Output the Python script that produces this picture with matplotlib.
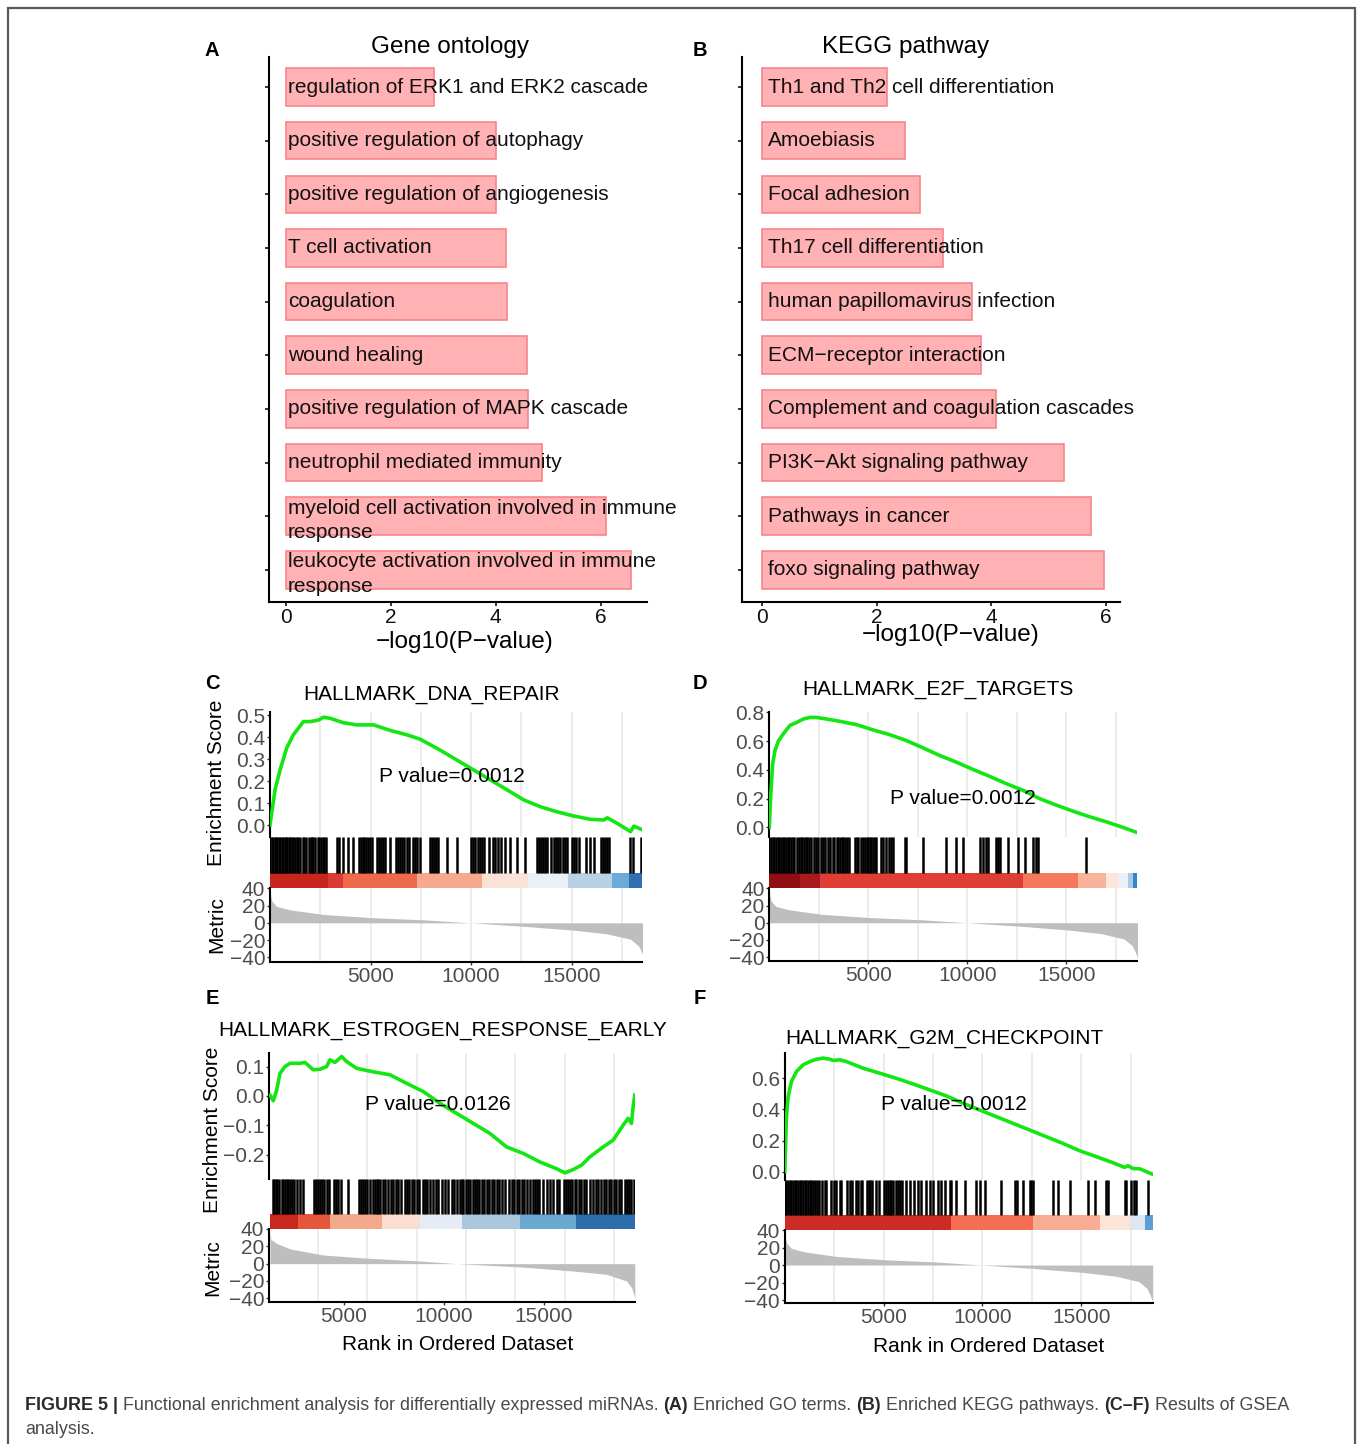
"""
Figure 5 rebuild: GO / KEGG enrichment bars (A, B) and four GSEA plots (C-F).
"""

import matplotlib
matplotlib.use("Agg")
import matplotlib.pyplot as plt
from matplotlib.patches import Rectangle

plt.rcParams['font.family'] = ['Liberation Sans', 'DejaVu Sans']

# ---------------------------------------------------------------- data
GO_TERMS = [
    "regulation of ERK1 and ERK2 cascade",
    "positive regulation of autophagy",
    "positive regulation of angiogenesis",
    "T cell activation",
    "coagulation",
    "wound healing",
    "positive regulation of MAPK cascade",
    "neutrophil mediated immunity",
    "myeloid cell activation involved in immune\nresponse",
    "leukocyte activation involved in immune\nresponse",
]
GO_LOGP = [2.83, 4.00, 4.01, 4.20, 4.21, 4.59, 4.61, 4.89, 6.10, 6.57]

KEGG_TERMS = [
    "Th1 and Th2 cell differentiation",
    "Amoebiasis",
    "Focal adhesion",
    "Th17 cell differentiation",
    "human papillomavirus infection",
    "ECM\u2212receptor interaction",
    "Complement and coagulation cascades",
    "PI3K\u2212Akt signaling pathway",
    "Pathways in cancer",
    "foxo signaling pathway",
]
KEGG_LOGP = [2.19, 2.50, 2.75, 3.16, 3.66, 3.82, 4.08, 5.27, 5.74, 5.96]

# running enrichment score curves (rank, ES)
C_ES_RANK = [0, 250, 500, 830, 1160, 1660, 1990, 2410, 2660, 2990, 3650, 4320,
             5150, 5980, 6810, 7470, 8470, 9300, 10130, 10960, 11790, 12620,
             13450, 14280, 15110, 15940, 16600, 16770, 17260, 17930, 18100, 18480]
C_ES = [0.0, 0.16, 0.25, 0.35, 0.41, 0.47, 0.47, 0.477, 0.49, 0.485, 0.465, 0.455,
        0.455, 0.43, 0.41, 0.39, 0.34, 0.295, 0.25, 0.205, 0.16, 0.114,
        0.083, 0.06, 0.041, 0.026, 0.023, 0.033, 0.008, -0.03, -0.005, -0.02]

D_ES_RANK = [0, 67, 168, 286, 454, 706, 1042, 1378, 1715, 2050, 2387, 2723, 3564,
             4404, 5245, 6085, 6926, 7766, 8607, 9447, 10288, 11128, 11969, 12809,
             13650, 14490, 15331, 16171, 17012, 17852, 18558]
D_ES = [0.0, 0.21, 0.44, 0.535, 0.60, 0.65, 0.71, 0.73, 0.754, 0.765, 0.765, 0.758,
        0.738, 0.715, 0.678, 0.645, 0.604, 0.553, 0.50, 0.454, 0.403, 0.355, 0.304,
        0.258, 0.20, 0.155, 0.113, 0.074, 0.039, 0.0, -0.035]

E_ES_RANK = [1300, 1467, 1633, 1800, 2050, 2300, 2800, 3050, 3467, 3800, 4133, 4300,
             4550, 4883, 5133, 5633, 5967, 6633, 7300, 8133, 8967, 9800, 10633,
             11467, 12300, 13133, 13967, 14800, 15633, 16050, 16467, 16883, 17300,
             17967, 18467, 18967, 19217, 19383, 19467, 19550]
E_ES = [0.003, -0.016, 0.02, 0.077, 0.10, 0.111, 0.111, 0.114, 0.089, 0.091, 0.10,
        0.123, 0.114, 0.134, 0.117, 0.094, 0.089, 0.08, 0.072, 0.043, 0.015, -0.025,
        -0.059, -0.093, -0.127, -0.173, -0.195, -0.224, -0.247, -0.261, -0.25,
        -0.235, -0.207, -0.173, -0.15, -0.099, -0.076, -0.093, -0.036, 0.003]

F_ES_RANK = [0, 84, 169, 337, 590, 927, 1265, 1602, 1939, 2276, 2445, 2782, 3119,
             3962, 4805, 5648, 6491, 7334, 8177, 9020, 9863, 10706, 11549, 12392,
             13235, 14078, 14921, 15764, 16607, 17197, 17366, 17619, 17956, 18597]
F_ES = [0.0, 0.354, 0.483, 0.58, 0.644, 0.687, 0.708, 0.723, 0.73, 0.723, 0.715,
        0.719, 0.708, 0.665, 0.633, 0.60, 0.564, 0.526, 0.487, 0.44, 0.397, 0.354,
        0.311, 0.268, 0.225, 0.182, 0.135, 0.097, 0.058, 0.028, 0.039, 0.021,
        0.019, -0.015]

# gene-set hit positions (rank)
C_HITS = [0, 83, 166, 249, 299, 365, 432, 498, 581, 664, 730, 797, 863, 930, 996,
          1079, 1162, 1262, 1328, 1411, 1494, 1627, 1710, 1793, 1959, 2025, 2092,
          2158, 2258, 2374, 2457, 2523, 2623, 2706, 2789, 3320, 3420, 3619, 3901,
          4117, 4432, 4515, 4615, 4681, 4781, 4864, 4980, 5063, 5345, 5445, 5528,
          5644, 5727, 5976, 6275, 6358, 6474, 6574, 6673, 6806, 6889, 7105, 7204,
          7304, 7437, 7935, 8034, 8134, 8267, 8366, 8798, 9296, 10012, 10111,
          10209, 10325, 10425, 10541, 10657, 10873, 11089, 11205, 11321, 11487,
          11703, 11952, 12284, 12699, 13280, 13363, 13479, 13579, 13695, 13778,
          13977, 14110, 14226, 14326, 14409, 14575, 14691, 14774, 15023, 15106,
          15239, 15355, 15737, 15903, 16102, 16467, 16567, 16666, 16766, 16866,
          17928, 18061, 18459]

D_HITS = [0, 84, 168, 252, 336, 420, 504, 588, 672, 756, 841, 925, 1009, 1093,
          1177, 1261, 1412, 1496, 1580, 1664, 1748, 1832, 1916, 2000, 2084, 2253,
          2353, 2471, 2589, 2690, 2790, 2975, 3059, 3194, 3278, 3396, 3480, 3564,
          3648, 3732, 3816, 3900, 4034, 4320, 4404, 4488, 4623, 4740, 4824, 4909,
          4993, 5077, 5161, 5245, 5329, 5413, 5665, 5749, 5917, 6052, 6169, 6253,
          6842, 6926, 7766, 8943, 9447, 9783, 10624, 10792, 10960, 11044, 11464,
          11548, 11632, 12053, 12557, 12893, 13314, 13482, 13566, 15970]

E_HITS = [1433, 1500, 1600, 1667, 1767, 1883, 1967, 2050, 2133, 2217, 2300, 2383,
          2500, 2633, 2800, 2933, 3500, 3600, 3717, 3800, 3883, 4000, 4133, 4267,
          4500, 4600, 4717, 4833, 5217, 5767, 5833, 5933, 6050, 6133, 6300, 6433,
          6550, 6633, 6717, 6800, 6933, 7050, 7217, 7333, 7467, 7600, 7717, 7833,
          8050, 8167, 8267, 8383, 8500, 8633, 8767, 8933, 9050, 9167, 9300, 9467,
          9600, 9717, 9883, 10050, 10217, 10383, 10500, 10633, 10800, 10883, 10967,
          11100, 11217, 11300, 11433, 11550, 11667, 11767, 11883, 12000, 12133,
          12267, 12383, 12500, 12633, 12767, 12883, 13050, 13267, 13383, 13500,
          13633, 13767, 13883, 14000, 14133, 14300, 14433, 14550, 14667, 14767,
          14933, 15167, 15300, 15433, 15633, 15767, 16000, 16100, 16217, 16300,
          16433, 16550, 16633, 16767, 16883, 17000, 17133, 17300, 17467, 17600,
          17717, 17883, 18000, 18133, 18267, 18383, 18500, 18633, 18767, 18883,
          19050, 19167, 19267, 19383, 19517]

F_HITS = [0, 84, 169, 253, 337, 422, 506, 590, 674, 759, 843, 927, 1012, 1096,
          1180, 1265, 1349, 1433, 1517, 1635, 1737, 1905, 2023, 2108, 2360, 2478,
          2613, 2782, 2866, 3153, 3288, 3423, 3591, 3709, 3844, 3928, 4164, 4266,
          4333, 4434, 4637, 4771, 5007, 5142, 5227, 5311, 5395, 5480, 5648, 5732,
          5850, 5952, 6154, 6323, 6525, 6744, 6913, 7166, 7334, 7503, 7756, 7924,
          8093, 8346, 8430, 8683, 9104, 9695, 9863, 10116, 10959, 11633, 11751,
          12055, 12392, 12476, 12561, 13572, 13825, 14449, 15343, 15680, 16270,
          16354, 17197, 17282, 17534, 17652, 17753, 18377]

# colour strip under the hits: segment edges (rank) and colours
C_STRIP_EDGES = [0, 2900, 3630, 7310, 10560, 12850, 14830, 17020, 17830, 18500]
C_STRIP_COLORS = ['#C8251F', '#DA3C34', '#EE6A4D', '#F6A98E', '#FBE2D6',
                  '#EBEFF8', '#B8D1E5', '#6EAAD8', '#2F6FB2']
D_STRIP_EDGES = [0, 1547, 2555, 12809, 15583, 17012, 17684, 18105, 18357, 18560]
D_STRIP_COLORS = ['#900D12', '#AA191B', '#DE3E34', '#F6795E', '#F8B39B',
                  '#FCE5DB', '#EBF1F9', '#A8CBE6', '#3C84C3']
E_STRIP_EDGES = [1300, 2717, 4300, 6883, 8800, 10883, 13800, 16633, 19550]
E_STRIP_COLORS = ['#C9281F', '#E4573D', '#F4A98A', '#F9DED1', '#E5ECF6',
                  '#A9C8DF', '#6BA9D3', '#2C6CAB']
F_STRIP_EDGES = [0, 8435, 12560, 15933, 17450, 18208, 18610]
F_STRIP_COLORS = ['#CD2C26', '#F36E52', '#F8AD92', '#FCE4D9', '#DCE7F3', '#5B9FD2']

# ranked list metric (shared by C, D, F) and the one drawn in E
METRIC_RANK = [0, 40, 100, 330, 1000, 2660, 5150, 7640, 9960, 12620, 15110,
               16770, 17930, 18340, 18500, 18620]
METRIC_VALUE = [38, 30, 25, 19, 15, 9.7, 5.9, 3.5, 0, -4, -8.5, -12.8, -19,
                -27, -35, -42]
E_METRIC_RANK = [1300, 1350, 1633, 2300, 3967, 6133, 8967, 10633, 13967, 16467,
                 18133, 19133, 19400, 19550]
E_METRIC_VALUE = [36, 28, 23.5, 17, 10, 6.4, 2.8, 0, -4, -8.5, -12.3, -20, -28, -40]

GRID_STD = [2500, 5000, 7500, 10000, 12500, 15000, 17500]
GRID_E = [3717, 6133, 8633, 11100, 13550, 16050, 18500]
RANK_TICKS = [5000, 10000, 15000]

# ---------------------------------------------------------------- layout
W, H = 1358, 1444
fig = plt.figure(figsize=(W / 100, H / 100), dpi=100)

GREY_TXT = '#4D4D4D'
GRID_COL = '#EBEBEB'


def px_axes(x0, y0, x1, y1):
    """Axes from pixel box (origin top-left)."""
    return fig.add_axes([x0 / W, 1 - y1 / H, (x1 - x0) / W, (y1 - y0) / H])


def ftext(x, y, s, **kw):
    return fig.text(x / W, 1 - y / H, s, **kw)


def bar_panel(box, terms, values, xlim, text_x, title, title_xy, xlab_xy):
    ax = px_axes(*box)
    ypos = list(range(len(terms)))[::-1]
    ax.barh(ypos, values, height=0.7, color='#FFB1B4', edgecolor='#F7858A',
            linewidth=1.2)
    for y, t in zip(ypos, terms):
        # wrapped labels sit a little low in the original
        dy = -0.08 if '\n' in t else 0
        ax.text(text_x, y + dy, t, fontsize=15, va='center', ha='left',
                color='#111111', linespacing=1.38)
    ax.set_xlim(xlim)
    ax.set_ylim(-0.6, len(terms) - 0.44)
    ax.set_yticks(ypos)
    ax.set_yticklabels([])
    ax.set_xticks([0, 2, 4, 6])
    ax.tick_params(axis='both', length=3, width=1.2, labelsize=15,
                   colors='#111111', pad=1)
    for s in ['top', 'right']:
        ax.spines[s].set_visible(False)
    for s in ['left', 'bottom']:
        ax.spines[s].set_linewidth(1.5)
    ftext(*title_xy, title, fontsize=17.5, ha='center', va='center')
    ftext(*xlab_xy, '\u2212log10(P\u2212value)', fontsize=17.5, ha='center',
          va='center')
    return ax


def gsea_panel(box, xlim, es_rank, es, es_ylim, es_ticks, es_labels, hits,
               edges, colors, m_rank, m_val, m_ylim, grid, title, title_xy,
               p_text, p_xy, ylabel_pos=None, xlabel_xy=None):
    x0, x1, top, hit_top, strip_top, strip_bot, bottom = box

    # enrichment score
    ax1 = px_axes(x0, top, x1, hit_top)
    for g in grid:
        ax1.axvline(g, color=GRID_COL, lw=1.3, zorder=0)
    ax1.plot(es_rank, es, color='#14E614', lw=2.6, zorder=3)
    ax1.set_xlim(xlim)
    ax1.set_ylim(es_ylim)
    ax1.set_xticks([])
    ax1.set_yticks(es_ticks)
    ax1.set_yticklabels(es_labels)
    for s in ['top', 'right', 'bottom']:
        ax1.spines[s].set_visible(False)
    ax1.spines['left'].set_linewidth(1.5)

    # hits + colour strip
    ax2 = px_axes(x0, hit_top, x1, strip_bot)
    frac = (strip_bot - strip_top) / (strip_bot - hit_top)
    ax2.vlines(hits, frac, 1.0, color='black', lw=1.8)
    segs = [(a, b - a) for a, b in zip(edges[:-1], edges[1:])]
    ax2.broken_barh(segs, (0, frac), facecolors=colors, edgecolor='none')
    ax2.set_xlim(xlim)
    ax2.set_ylim(0, 1)
    ax2.axis('off')

    # ranked list metric
    ax3 = px_axes(x0, strip_bot, x1, bottom)
    for g in grid:
        ax3.axvline(g, color=GRID_COL, lw=1.3, zorder=0)
    ax3.fill_between(m_rank, m_val, 0, color='#BEBEBE', lw=0, zorder=2)
    ax3.set_xlim(xlim)
    ax3.set_ylim(m_ylim)
    ax3.set_yticks([40, 20, 0, -20, -40])
    ax3.set_yticklabels(['40', '20', '0', '\u221220', '\u221240'])
    ax3.set_xticks(RANK_TICKS)
    for s in ['top', 'right']:
        ax3.spines[s].set_visible(False)
    for s in ['left', 'bottom']:
        ax3.spines[s].set_linewidth(1.5)

    for ax in (ax1, ax3):
        ax.tick_params(axis='both', length=2.5, width=1, labelsize=15,
                       labelcolor=GREY_TXT, color='#333333', pad=1)

    ftext(*title_xy, title, fontsize=15, ha='center', va='center')
    ftext(*p_xy, p_text, fontsize=15, ha='center', va='center')
    if ylabel_pos is not None:
        lx, es_y, m_y = ylabel_pos
        ftext(lx, es_y, 'Enrichment Score', fontsize=15,
              rotation=90, ha='center', va='center')
        ftext(lx, m_y, 'Metric', fontsize=15,
              rotation=90, ha='center', va='center')
    if xlabel_xy is not None:
        ftext(*xlabel_xy, 'Rank in Ordered Dataset', fontsize=15, ha='center',
              va='center')


# outer frame
fig.add_artist(Rectangle((8 / W, -0.01), (1355 - 8) / W, 1 - 8 / H + 0.01,
                         transform=fig.transFigure, fill=False,
                         edgecolor='#5A5A5A', lw=1.6))

# A / B
bar_panel((269, 57, 647, 602), GO_TERMS, GO_LOGP, (-0.318, 6.88), 0.04,
          'Gene ontology', (450, 47), (465, 642))
bar_panel((742, 57, 1120, 602), KEGG_TERMS, KEGG_LOGP, (-0.343, 6.24), 0.11,
          'KEGG pathway', (906, 47), (951, 635))

# C - F
gsea_panel((270, 642, 711.7, 836.7, 872.7, 888.3, 961.7), (0, 18500),
           C_ES_RANK, C_ES, (-0.053, 0.515), [0, 0.1, 0.2, 0.3, 0.4, 0.5],
           ['0.0', '0.1', '0.2', '0.3', '0.4', '0.5'], C_HITS,
           C_STRIP_EDGES, C_STRIP_COLORS, METRIC_RANK, METRIC_VALUE,
           (-45, 38.2), GRID_STD, 'HALLMARK_DNA_REPAIR', (432, 695),
           'P value=0.0012', (452, 776), ylabel_pos=(217, 783, 925))

gsea_panel((769.3, 1137.3, 711.7, 836.7, 872.7, 888.3, 961), (0, 18585),
           D_ES_RANK, D_ES, (-0.065, 0.805), [0, 0.2, 0.4, 0.6, 0.8],
           ['0.0', '0.2', '0.4', '0.6', '0.8'], D_HITS,
           D_STRIP_EDGES, D_STRIP_COLORS, METRIC_RANK, METRIC_VALUE,
           (-44.5, 38.2), GRID_STD, 'HALLMARK_E2F_TARGETS', (938, 689),
           'P value=0.0012', (963, 798))

gsea_panel((269, 635, 1053.3, 1179.3, 1214, 1229, 1302.3), (1250, 19560),
           E_ES_RANK, E_ES, (-0.283, 0.145), [-0.2, -0.1, 0.0, 0.1],
           ['\u22120.2', '\u22120.1', '0.0', '0.1'], E_HITS,
           E_STRIP_EDGES, E_STRIP_COLORS, E_METRIC_RANK, E_METRIC_VALUE,
           (-44.6, 39.2), GRID_E, 'HALLMARK_ESTROGEN_RESPONSE_EARLY', (443, 1031),
           'P value=0.0126', (438, 1105), ylabel_pos=(213, 1130, 1268),
           xlabel_xy=(458, 1344))

gsea_panel((784.8, 1152.7, 1053.3, 1180, 1215, 1230, 1303.3), (0, 18620),
           F_ES_RANK, F_ES, (-0.053, 0.761), [0, 0.2, 0.4, 0.6],
           ['0.0', '0.2', '0.4', '0.6'], F_HITS,
           F_STRIP_EDGES, F_STRIP_COLORS, METRIC_RANK, METRIC_VALUE,
           (-43.7, 38.1), GRID_STD, 'HALLMARK_G2M_CHECKPOINT', (944, 1038),
           'P value=0.0012', (954, 1105), xlabel_xy=(989, 1347))

# panel letters
for letter, (lx, ly) in zip('ABCDEF', [(212, 50), (700, 50), (212, 684),
                                      (700, 684), (212, 998), (700, 998)]):
    ftext(lx, ly, letter, fontsize=14.5, fontweight='bold', ha='center', va='center')

# caption with mixed bold runs
renderer = fig.canvas.get_renderer()


def caption_line(x, y, pieces, size=12.9):
    for txt, bold in pieces:
        t = ftext(x, y, txt, fontsize=size, fontweight='bold' if bold else 'normal',
                  color='#2A2A2A' if bold else '#4A4A4A', ha='left', va='center')
        x += t.get_window_extent(renderer=renderer).width


caption_line(25, 1406, [
    ('FIGURE 5 | ', True),
    ('Functional enrichment analysis for differentially expressed miRNAs. ', False),
    ('(A)', True), (' Enriched GO terms. ', False),
    ('(B)', True), (' Enriched KEGG pathways. ', False),
    ('(C\u2013F)', True), (' Results of GSEA', False),
])
caption_line(25, 1430, [('analysis.', False)])

fig.savefig('out.png', dpi=100)
